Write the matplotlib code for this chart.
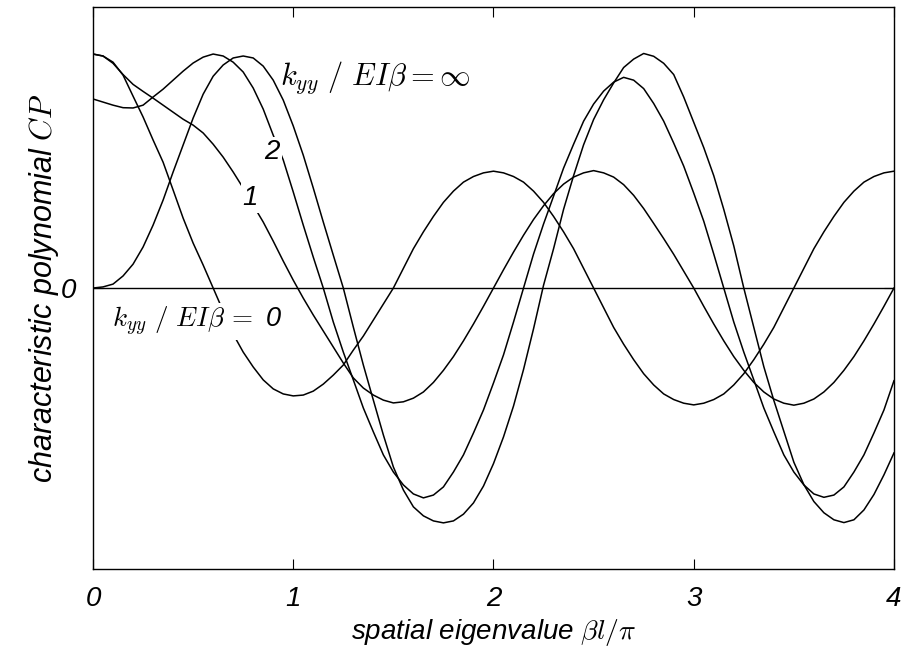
import numpy as np
import matplotlib
matplotlib.use("Agg")
import matplotlib.pyplot as plt

plt.rcParams["font.family"] = ["Liberation Sans", "DejaVu Sans"]
plt.rcParams["font.style"] = "italic"
plt.rcParams["mathtext.fontset"] = "cm"

# spatial eigenvalue beta*l/pi, sampled every 0.05
beta_l = np.round(np.arange(81) * 0.05, 2)

# characteristic polynomial for k_yy/EI*beta = 0
cp_k0 = [
    0.833, 0.826, 0.804, 0.758, 0.683, 0.609, 0.527, 0.448, 0.349, 0.249,
    0.160, 0.082, 0.000, -0.082, -0.164, -0.228, -0.281, -0.327, -0.359, -0.377,
    -0.384, -0.381, -0.367, -0.342, -0.310, -0.274, -0.221, -0.171, -0.114, -0.057,
    0.000, 0.070, 0.140, 0.200, 0.255, 0.305, 0.345, 0.377, 0.397, 0.410,
    0.416, 0.410, 0.397, 0.377, 0.345, 0.305, 0.255, 0.200, 0.140, 0.070,
    0.000, -0.070, -0.140, -0.200, -0.255, -0.305, -0.345, -0.377, -0.397, -0.410,
    -0.416, -0.410, -0.397, -0.377, -0.345, -0.305, -0.255, -0.200, -0.140, -0.070,
    0.000, 0.070, 0.140, 0.200, 0.255, 0.305, 0.345, 0.377, 0.397, 0.410,
    0.416,
]

# k_yy/EI*beta = 1
cp_k1 = [
    0.833, 0.826, 0.800, 0.760, 0.725, 0.700, 0.676, 0.651, 0.626, 0.601,
    0.580, 0.552, 0.512, 0.466, 0.413, 0.356, 0.295, 0.235, 0.167, 0.096,
    0.028, -0.036, -0.096, -0.153, -0.210, -0.267, -0.320, -0.356, -0.381, -0.399,
    -0.409, -0.405, -0.392, -0.370, -0.336, -0.293, -0.244, -0.188, -0.128, -0.065,
    0.000, 0.065, 0.128, 0.188, 0.244, 0.293, 0.336, 0.370, 0.395, 0.410,
    0.418, 0.410, 0.395, 0.368, 0.330, 0.283, 0.230, 0.176, 0.120, 0.060,
    0.000, -0.065, -0.128, -0.188, -0.244, -0.293, -0.336, -0.370, -0.395, -0.410,
    -0.417, -0.410, -0.395, -0.370, -0.336, -0.293, -0.244, -0.188, -0.128, -0.065,
    0.000,
]

# k_yy/EI*beta = 2
cp_k2 = [
    0.673, 0.662, 0.651, 0.642, 0.641, 0.651, 0.680, 0.708, 0.740, 0.772,
    0.801, 0.822, 0.833, 0.826, 0.804, 0.769, 0.712, 0.637, 0.544, 0.456,
    0.342, 0.224, 0.110, 0.000, -0.121, -0.228, -0.327, -0.427, -0.512, -0.594,
    -0.655, -0.701, -0.733, -0.747, -0.737, -0.708, -0.655, -0.594, -0.516, -0.434,
    -0.338, -0.238, -0.121, 0.000, 0.121, 0.228, 0.327, 0.427, 0.512, 0.594,
    0.655, 0.701, 0.733, 0.750, 0.740, 0.710, 0.657, 0.594, 0.516, 0.434,
    0.338, 0.238, 0.121, 0.000, -0.121, -0.228, -0.327, -0.427, -0.512, -0.594,
    -0.655, -0.701, -0.733, -0.745, -0.737, -0.708, -0.655, -0.594, -0.516, -0.434,
    -0.330,
]

# k_yy/EI*beta = infinity
cp_inf = [
    0.000, 0.004, 0.014, 0.043, 0.085, 0.146, 0.224, 0.313, 0.413, 0.509,
    0.605, 0.690, 0.754, 0.794, 0.819, 0.826, 0.819, 0.790, 0.740, 0.669,
    0.577, 0.473, 0.356, 0.235, 0.117, 0.000, -0.139, -0.274, -0.399, -0.523,
    -0.637, -0.719, -0.779, -0.811, -0.829, -0.836, -0.829, -0.805, -0.765, -0.705,
    -0.625, -0.530, -0.420, -0.290, -0.145, 0.010, 0.140, 0.280, 0.400, 0.510,
    0.600, 0.670, 0.730, 0.785, 0.815, 0.835, 0.825, 0.800, 0.760, 0.680,
    0.590, 0.500, 0.400, 0.280, 0.150, 0.000, -0.140, -0.280, -0.400, -0.510,
    -0.620, -0.700, -0.760, -0.800, -0.825, -0.835, -0.825, -0.790, -0.735, -0.665,
    -0.587,
]

fig = plt.figure(figsize=(9.03, 6.48), dpi=100)
ax = fig.add_axes([0.103, 0.122, 0.887, 0.867])

for cp in (cp_k0, cp_k1, cp_k2, cp_inf):
    ax.plot(beta_l, cp, color="black", lw=1.1, zorder=2)
ax.axhline(0, color="black", lw=1.0, zorder=1)

ax.set_xlim(0, 4)
ax.set_ylim(-1, 1)
ax.set_xticks([0, 1, 2, 3, 4])
ax.set_xticklabels(["0", "1", "2", "3", "4"])
ax.set_yticks([0])
ax.set_yticklabels(["0"])
ax.tick_params(direction="in", length=7, width=0.8, top=True, right=True,
               labelsize=20, pad=12)
for side in ax.spines.values():
    side.set_linewidth(1.0)

ax.set_xlabel(r"spatial eigenvalue $\beta l/\pi$", fontsize=20, labelpad=4)
ax.set_ylabel(r"characteristic polynomial $CP$", fontsize=22, labelpad=0)

white = dict(facecolor="white", edgecolor="none", pad=1.5)
ax.text(0.935, 0.75, r"$k_{yy}\ /\ EI\beta = \infty$", fontsize=22,
        ha="left", va="center", zorder=3)
ax.text(0.095, -0.12, r"$k_{yy}\ /\ EI\beta\, =$ 0", fontsize=19.5,
        ha="left", va="center", bbox=white, zorder=3)
ax.text(0.895, 0.484, "2", fontsize=20, ha="center", va="center",
        bbox=white, zorder=3)
ax.text(0.785, 0.32, "1", fontsize=20, ha="center", va="center",
        bbox=white, zorder=3)

fig.savefig("out.png", dpi=100)
